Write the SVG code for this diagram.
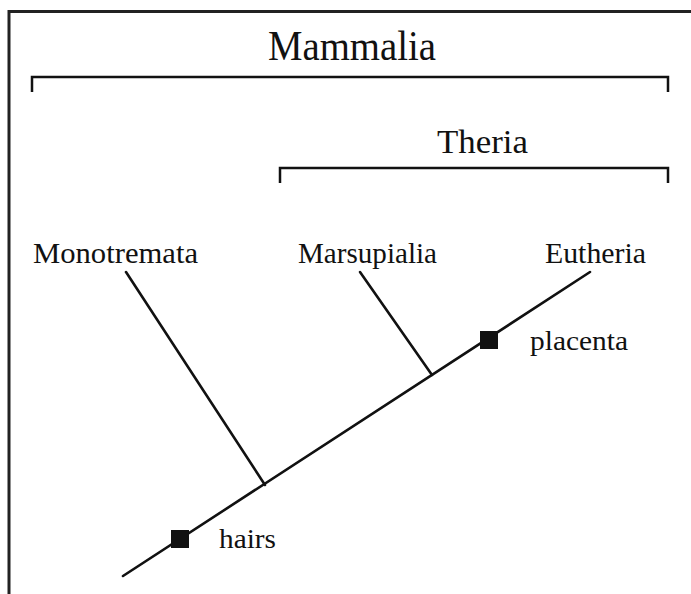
<svg xmlns="http://www.w3.org/2000/svg" width="691" height="594" viewBox="0 0 691 594">
<style>
.frame{stroke:#222;stroke-width:3;fill:none}
.br{stroke:#111;stroke-width:2.5;fill:none}
.ln{stroke:#111;stroke-width:2.6;fill:none;stroke-linecap:round}
.t{font-family:"Liberation Serif","Times New Roman",serif;fill:#111}
.mk{fill:#111}
</style>
<rect width="691" height="594" fill="#fff"/>
<g id="frame">
<line class="frame" x1="8" y1="11.5" x2="691" y2="11.5"/>
<line class="frame" x1="9" y1="10" x2="9" y2="594"/>
</g>
<g id="mammalia">
<path class="br" d="M32,92 V77 H668 V92"/>
<text class="t" x="268" y="60" font-size="42" textLength="168" lengthAdjust="spacingAndGlyphs">Mammalia</text>
</g>
<g id="theria">
<path class="br" d="M280,183 V168 H668 V183"/>
<text class="t" x="437" y="153" font-size="34" textLength="91" lengthAdjust="spacingAndGlyphs">Theria</text>
</g>
<g id="connectors">
<line class="ln" x1="123" y1="576" x2="590" y2="272"/>
<line class="ln" x1="126" y1="272" x2="265" y2="485"/>
<line class="ln" x1="360" y1="272" x2="432" y2="375"/>
</g>
<g id="monotremata">
<text class="t" x="33" y="263" font-size="30" textLength="165" lengthAdjust="spacingAndGlyphs">Monotremata</text>
</g>
<g id="marsupialia">
<text class="t" x="298" y="263" font-size="30" textLength="139" lengthAdjust="spacingAndGlyphs">Marsupialia</text>
</g>
<g id="eutheria">
<text class="t" x="545" y="263" font-size="30" textLength="101" lengthAdjust="spacingAndGlyphs">Eutheria</text>
</g>
<g id="hairs">
<rect class="mk" x="171" y="530" width="18" height="18"/>
<text class="t" x="219" y="548" font-size="28" textLength="57" lengthAdjust="spacingAndGlyphs">hairs</text>
</g>
<g id="placenta">
<rect class="mk" x="480" y="331" width="18" height="18"/>
<text class="t" x="530" y="350" font-size="28" textLength="98" lengthAdjust="spacingAndGlyphs">placenta</text>
</g>
</svg>
